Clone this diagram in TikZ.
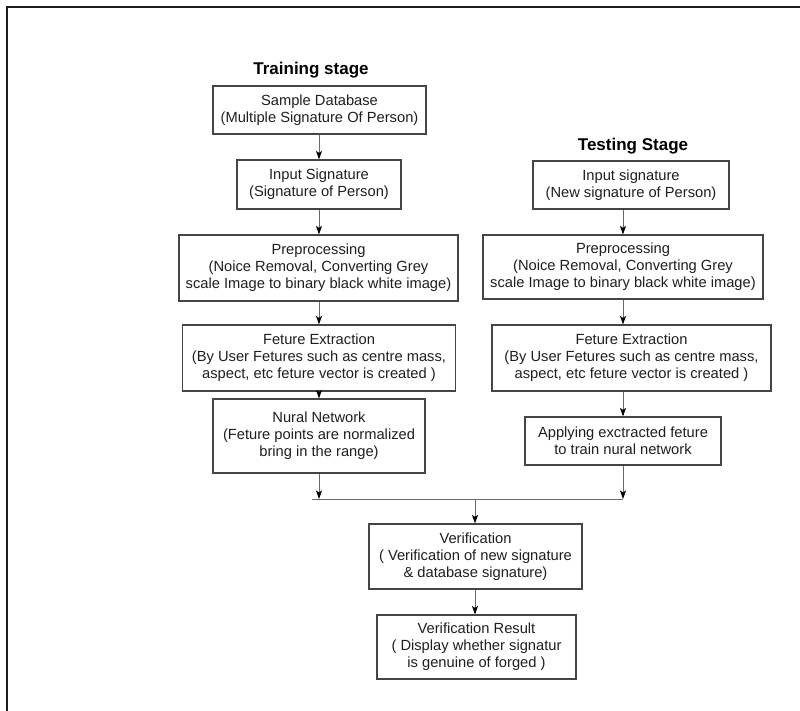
\documentclass[tikz,border=0pt]{standalone}
\usepackage{fontspec}
\setmainfont{Liberation Sans}
\usetikzlibrary{arrows.meta}
\definecolor{boxline}{HTML}{454545}
\definecolor{arrline}{HTML}{6A6A6A}
\definecolor{txt}{HTML}{1F1F1F}
\definecolor{frame}{HTML}{1E1E1E}
\begin{document}
\begin{tikzpicture}[x=1pt,y=-1pt,
  box/.style={draw=boxline, line width=1.2pt, text=txt, align=center, inner sep=0pt,
    font=\fontsize{14.7}{16.9}\selectfont},
  arr/.style={draw=arrline, line width=0.9pt, -{Stealth[length=8.5pt,width=6pt,inset=2pt,color=black]}},
  plain/.style={draw=arrline, line width=0.9pt},
  ttl/.style={font=\fontsize{17}{20}\selectfont\bfseries, text=black, inner sep=0pt}]
\useasboundingbox (0,0) rectangle (800,711);
\fill[white] (0,0) rectangle (800,711);
\draw[line width=2.2pt, frame] (7,711) -- (7,7) -- (800,7);

\coordinate (colL) at (319,0);
\coordinate (colR) at (623,0);
\coordinate (colM) at (475,0);

\node[ttl] (ttrain) at (311,70) {Training stage};
\node[ttl] (ttest) at (633,146) {Testing Stage};

% training column
\node[box, minimum width=213pt, minimum height=48pt] (sdb) at (319.5,110) {Sample Database\\(Multiple Signature Of Person)};
\node[box, minimum width=164pt, minimum height=49pt] (isl) at (319,184.5) {Input Signature\\(Signature of Person)};
\node[box, minimum width=279pt, minimum height=66pt] (ppl) at (318.5,268) {Preprocessing\\(Noice Removal, Converting Grey\\scale Image to binary black white image)};
\node[box, minimum width=273pt, minimum height=66pt] (fel) at (319,358) {Feture Extraction\\(By User Fetures such as centre mass,\\aspect, etc feture vector is created )};
\node[box, minimum width=212pt, minimum height=74pt] (nn) at (319,436) {Nural Network\\(Feture points are normalized\\bring in the range)};

% testing column
\node[box, minimum width=196pt, minimum height=48pt] (isr) at (631,185) {Input signature\\(New signature of Person)};
\node[box, minimum width=280pt, minimum height=64pt] (ppr) at (623,267) {Preprocessing\\(Noice Removal, Converting Grey\\scale Image to binary black white image)};
\node[box, minimum width=279pt, minimum height=66pt] (fer) at (631.5,358) {Feture Extraction\\(By User Fetures such as centre mass,\\aspect, etc feture vector is created )};
\node[box, minimum width=196pt, minimum height=48pt] (app) at (623,441) {Applying exctracted feture\\to train nural network};

% common
\node[box, minimum width=213pt, minimum height=65pt] (ver) at (475.5,556.5) {Verification\\( Verification of new signature\\\& database signature)};
\node[box, minimum width=199pt, minimum height=64pt] (res) at (476.5,647) {Verification Result\\( Display whether signatur\\is genuine of forged )};

\coordinate (mL) at (312,499);
\coordinate (mR) at (623,499);
\coordinate (mC) at (475,499);

\draw[arr] (sdb.south -| colL) -- (isl.north -| colL);
\draw[arr] (isl.south -| colL) -- (ppl.north -| colL);
\draw[arr] (ppl.south -| colL) -- (fel.north -| colL);
\draw[arr] (fel.south -| colL) -- (nn.north -| colL);
\draw[arr] (nn.south -| colL) -- (mL -| colL);

\draw[arr] (isr.south -| colR) -- (ppr.north -| colR);
\draw[arr] (ppr.south -| colR) -- (fer.north -| colR);
\draw[arr] (fer.south -| colR) -- (app.north -| colR);
\draw[arr] (app.south -| colR) -- (mR);

\draw[plain] (mL) -- (mR);
\draw[arr] (mC) -- (ver.north -| colM);
\draw[arr] (ver.south -| colM) -- (res.north -| colM);
\end{tikzpicture}
\end{document}
